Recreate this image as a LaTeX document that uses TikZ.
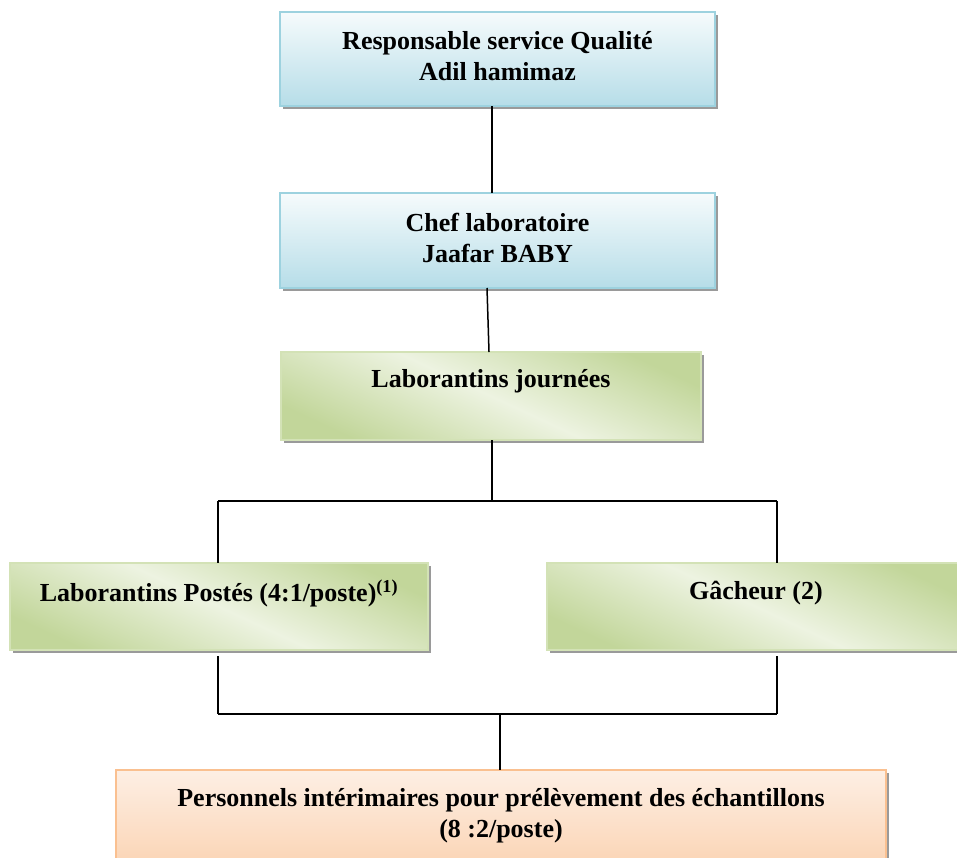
\documentclass[tikz,border=0pt]{standalone}
\usepackage{fontspec}
\setmainfont{Liberation Serif}
\usetikzlibrary{shadows,calc}
\definecolor{btop}{HTML}{F6FBFC}
\definecolor{bbot}{HTML}{B6DDE8}
\definecolor{bborder}{HTML}{9DD2DF}
\definecolor{gdark}{HTML}{C2D69A}
\definecolor{glight}{HTML}{EDF3E1}
\definecolor{gborder}{HTML}{D3E2B6}
\definecolor{otop}{HTML}{FDEFE4}
\definecolor{obot}{HTML}{FBD3B2}
\definecolor{oborder}{HTML}{FAC090}
\definecolor{shadowgray}{HTML}{9A9A9A}
\tikzset{
  box/.style={line width=1.8pt, inner sep=0pt, outer sep=0pt,
    general shadow={fill=shadowgray, shadow xshift=3pt, shadow yshift=-3pt}},
  bluebox/.style={box, draw=bborder, top color=btop, bottom color=bbot},
  greenbox/.style={box, draw=gborder, left color=gdark, right color=gdark, middle color=glight, shading angle=-25},
  orangebox/.style={box, draw=oborder, top color=otop, bottom color=obot},
  lbl/.style={font=\bfseries\fontsize{26}{31}\selectfont, align=center, inner sep=0pt, text=black},
  conn/.style={line width=1.5pt, black}
}
\begin{document}
\begin{tikzpicture}[x=1pt,y=-1pt]
\useasboundingbox (0,0) rectangle (957,857);
\clip (0,0) rectangle (957,857);
\fill[white] (0,0) rectangle (957,857);
% boxes
\node[bluebox, minimum width=435, minimum height=94] (b1) at (497.5,59) {};
\node[bluebox, minimum width=435, minimum height=95] (b2) at (497.5,240.5) {};
\node[greenbox, minimum width=420, minimum height=88] (b3) at (491,396) {};
\node[greenbox, minimum width=418, minimum height=87] (b4) at (219,606.5) {};
\node[greenbox, minimum width=418, minimum height=87] (b5) at (756,606.5) {};
\node[orangebox, minimum width=770, minimum height=100] (b6) at (501,820) {};
% labels
\node[lbl] (t1) at ($(b1.center)+(0,-3)$) {Responsable service Qualité\\Adil hamimaz};
\node[lbl] (t2) at ($(b2.center)+(0,-3)$) {Chef laboratoire\\Jaafar BABY};
\node[lbl] (t3) at ($(b3.north)+(0,29)$) {Laborantins journées};
\node[lbl] (t4) at ($(b4.north)+(0,30)$) {Laborantins Postés (4:1/poste)\textsuperscript{(1)}};
\node[lbl] (t5) at ($(b5.north)+(0,30)$) {Gâcheur (2)};
\node[lbl] (t6) at ($(b6.north)+(0,46)$) {Personnels intérimaires pour prélèvement des échantillons\\(8 :2/poste)};
% connectors
\draw[conn] ($(b1.south)+(-5.5,0)$) -- ($(b2.north)+(-5.5,0)$);
\draw[conn] ($(b2.south)+(-10.5,0)$) -- ($(b3.north)+(-2,0)$);
\coordinate (jm) at (492,501);
\coordinate (jl) at (218,501);
\coordinate (jr) at (777,501);
\draw[conn] (b3.south -| jm) -- (jm);
\draw[conn] (jl) -- (jr);
\draw[conn] (jl) -- (jl |- b4.north);
\draw[conn] (jr) -- (jr |- b5.north);
\coordinate (kl) at (218,714);
\coordinate (kr) at (777,714);
\coordinate (km) at (500,714);
\draw[conn] ($(kl |- b4.south)+(0,6)$) -- (kl);
\draw[conn] ($(kr |- b5.south)+(0,6)$) -- (kr);
\draw[conn] (kl) -- (kr);
\draw[conn] (km) -- (km |- b6.north);
\end{tikzpicture}
\end{document}
